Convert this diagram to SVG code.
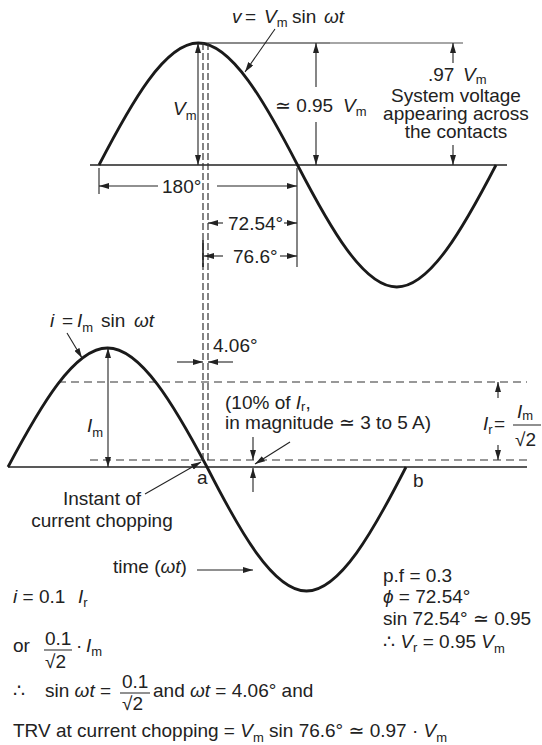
<svg xmlns="http://www.w3.org/2000/svg" width="542" height="745" viewBox="0 0 542 745">
<defs>
<style>
.curve{fill:none;stroke:#1a1a1a;stroke-width:2.8}
.axis{fill:none;stroke:#222;stroke-width:1.6}
.thin{fill:none;stroke:#222;stroke-width:1.1}
.dashv{fill:none;stroke:#333;stroke-width:1.2;stroke-dasharray:7 3}
.dashh{fill:none;stroke:#333;stroke-width:1.2;stroke-dasharray:8 5}
.a{marker-end:url(#ah)}
.aa{marker-start:url(#ah);marker-end:url(#ah)}
text{font-family:"Liberation Sans",Arial,"DejaVu Sans",sans-serif;font-size:19px;fill:#222}
.i{font-style:italic}
.s{font-size:13px}
.m{text-anchor:middle}
</style>
<marker id="ah" viewBox="0 0 10 6" refX="10" refY="3" markerWidth="10" markerHeight="6" markerUnits="userSpaceOnUse" orient="auto-start-reverse"><path d="M0,0L10,3L0,6z" fill="#222"/></marker>
</defs>

<g id="voltage-wave">
<path class="axis" d="M90,165H507"/>
<path d="M200,43H330" stroke="#8a8a8a" stroke-width="2.2"/>
<path d="M330,43H463" stroke="#888" stroke-width="1.5"/>
<path class="curve" d="M99,165C131.4,102.5 164.9,43 198.25,43S265.1,102.5 297.5,165S363.4,287 396.75,287S463.6,227.5 496,165"/>
</g>

<g id="current-wave">
<path class="axis" d="M8,467H527"/>
<path class="dashh" d="M58,382H527M90,460H527"/>
<path class="curve" d="M8,467C40.4,406 74.1,348 107.5,348S174.6,406 207,467C239.4,530.5 273.1,591 306.5,591S373.6,530.5 406,467"/>
</g>

<g id="connectors">
<path class="dashv" d="M203,43V463M208,43V463"/>
<line class="thin aa" x1="198" y1="43" x2="198" y2="165"/>
<line class="thin a" x1="316" y1="87" x2="316" y2="43"/>
<line class="thin a" x1="316" y1="122" x2="316" y2="165"/>
<line class="thin a" x1="453" y1="63" x2="453" y2="43"/>
<line class="thin a" x1="453" y1="145" x2="453" y2="165"/>
<line class="thin a" x1="275" y1="29" x2="245" y2="72"/>
<path class="thin" d="M99,168V194M297,168V267"/>
<line class="thin a" x1="158" y1="186" x2="99" y2="186"/>
<line class="thin a" x1="217" y1="186" x2="297" y2="186"/>
<line class="thin a" x1="223" y1="223" x2="208" y2="223"/>
<line class="thin a" x1="284" y1="223" x2="297" y2="223"/>
<path d="M203,240V267" stroke="#222" stroke-width="1.6"/>
<line class="thin a" x1="223" y1="256" x2="204" y2="256"/>
<line class="thin a" x1="280" y1="256" x2="297" y2="256"/>
<line class="thin aa" x1="108" y1="348" x2="108" y2="467"/>
<line class="thin a" x1="177" y1="362" x2="203" y2="362"/>
<line class="thin a" x1="233" y1="362" x2="208" y2="362"/>
<line class="thin a" x1="67" y1="333" x2="82" y2="358"/>
<line class="thin a" x1="498" y1="398" x2="498" y2="382"/>
<line class="thin a" x1="498" y1="445" x2="498" y2="460"/>
<line class="thin a" x1="253" y1="437" x2="253" y2="460"/>
<line class="thin a" x1="253" y1="492" x2="253" y2="468"/>
<line class="thin a" x1="290" y1="442" x2="255" y2="464"/>
<line class="thin a" x1="145" y1="494" x2="201" y2="462"/>
<line class="thin a" x1="197" y1="570" x2="253" y2="570"/>
<path class="thin" d="M513,425H541M44,650H72M120,693H150"/>
</g>

<g id="labels">
<text x="232" y="23"><tspan class="i">v</tspan><tspan x="245">=</tspan><tspan class="i" x="264">V</tspan><tspan class="s" dy="4">m</tspan><tspan dy="-4" x="292">sin</tspan><tspan class="i" x="324">ωt</tspan></text>
<text x="173" y="115"><tspan class="i">V</tspan><tspan class="s" dy="5">m</tspan></text>
<text x="275" y="112">≃ 0.95 <tspan class="i" x="343">V</tspan><tspan class="s" dy="4">m</tspan></text>
<text x="428" y="81">.97 <tspan class="i" x="463">V</tspan><tspan class="s" dy="3">m</tspan></text>
<text class="m" x="456" y="102">System voltage</text>
<text class="m" x="456" y="120">appearing across</text>
<text class="m" x="456" y="138">the contacts</text>
<text x="162" y="193">180°</text>
<text x="228" y="230">72.54°</text>
<text x="233" y="263">76.6°</text>
<text x="213" y="352">4.06°</text>
<text x="50" y="327"><tspan class="i">i</tspan><tspan x="62">=</tspan><tspan class="i" x="77">I</tspan><tspan class="s" dy="5">m</tspan><tspan dy="-5" x="101">sin</tspan><tspan class="i" x="134">ωt</tspan></text>
<text x="87" y="432"><tspan class="i">I</tspan><tspan class="s" dy="5">m</tspan></text>
<text x="225" y="409">(10% of <tspan class="i">I</tspan><tspan class="s" dy="2">r</tspan><tspan dy="-2">,</tspan></text>
<text x="225" y="429">in magnitude ≃ 3 to 5 A)</text>
<text x="483" y="430"><tspan class="i">I</tspan><tspan class="s" dy="4">r</tspan><tspan dy="-4" x="494">=</tspan></text>
<text x="517" y="418"><tspan class="i">I</tspan><tspan class="s" dy="2">m</tspan></text>
<text x="515" y="446">√2</text>
<text x="197" y="484">a</text>
<text x="413" y="487">b</text>
<text class="m" x="102" y="505">Instant of</text>
<text class="m" x="102" y="527">current chopping</text>
<text x="113" y="573">time (<tspan class="i">ωt</tspan>)</text>
<text x="383" y="582">p.f = 0.3</text>
<text x="383" y="603"><tspan class="i">ϕ</tspan> = 72.54°</text>
<text x="383" y="625">sin 72.54° ≃ 0.95</text>
<text x="383" y="648">∴ <tspan class="i">V</tspan><tspan class="s" dy="4">r</tspan><tspan dy="-4"> = 0.95 </tspan><tspan class="i">V</tspan><tspan class="s" dy="5">m</tspan></text>
<text x="13" y="603"><tspan class="i">i</tspan> = 0.1 <tspan class="i" x="78">I</tspan><tspan class="s" dy="4">r</tspan></text>
<text x="13" y="652">or</text>
<text x="45" y="645">0.1</text>
<text x="45" y="668">√2</text>
<text x="76" y="652">·</text>
<text x="86" y="652"><tspan class="i">I</tspan><tspan class="s" dy="4">m</tspan></text>
<text x="13" y="697">∴ <tspan x="45">sin </tspan><tspan class="i">ωt</tspan> =</text>
<text x="122" y="688">0.1</text>
<text x="122" y="710">√2</text>
<text x="153" y="697">and <tspan class="i">ωt</tspan> = 4.06° and</text>
<text x="13" y="737">TRV at current chopping = <tspan class="i">V</tspan><tspan class="s" dy="5">m</tspan><tspan dy="-5"> sin 76.6° ≃ 0.97 · </tspan><tspan class="i">V</tspan><tspan class="s" dy="5">m</tspan></text>
</g>
</svg>
